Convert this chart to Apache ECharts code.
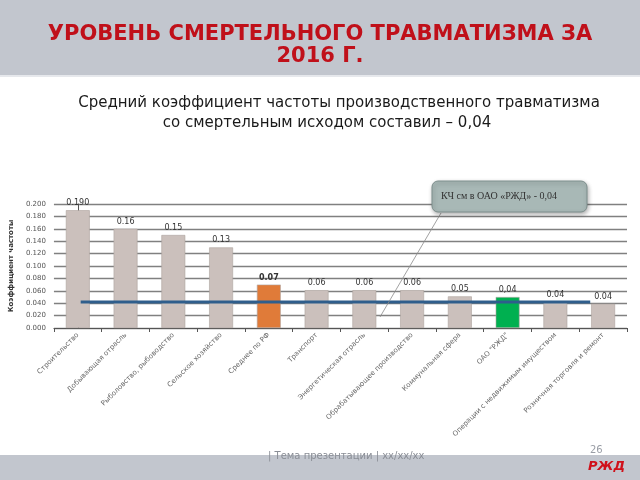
<!DOCTYPE html>
<html><head><meta charset="utf-8">
<script src="https://cdn.jsdelivr.net/npm/echarts@6/dist/echarts.min.js"></script>
<style>html,body{margin:0;padding:0;background:#fff}#c{width:640px;height:480px}</style>
</head><body><div id="c"></div>
<script>
var categories = ['Строительство','Добывающая отрасль','Рыболовство, рыбоводство','Сельское хозяйство','Среднее по РФ','Транспорт','Энергетическая отрасль','Обрабатывающее производство','Коммунальная сфера','ОАО "РЖД"','Операции с недвижимым имуществом','Розничная торговля и ремонт'];
var values = [0.190, 0.160, 0.150, 0.130, 0.070, 0.061, 0.061, 0.061, 0.051, 0.050, 0.042, 0.039];
var valueLabels = ['0.190','0.16','0.15','0.13','0.07','0.06','0.06','0.06','0.05','0,04','0.04','0.04'];
var highlight = {4: '#e07b39', 9: '#00b050'};
var avgLevel = 0.042;
var avgSpan = [0.06, 10.73];
var yTicks = {min: 0, max: 0.2, interval: 0.02};

var chart = echarts.init(document.getElementById('c'), null, {renderer: 'canvas'});
var barData = values.map(function (v, i) {
  return {value: v, label: {formatter: valueLabels[i], fontWeight: i === 4 ? 'bold' : 'normal'},
    itemStyle: {color: highlight[i] || '#cbc0bc', borderColor: highlight[i] ? '#b0a6a2' : '#aca29e', borderWidth: 0.6}};
});
var sub = {fill: '#1a1a1a', fontSize: 15, fontFamily: 'DejaVu Sans', textAlign: 'center', textVerticalAlign: 'middle'};
chart.setOption({
  animation: false,
  backgroundColor: '#fff',
  title: [
    {text: 'УРОВЕНЬ СМЕРТЕЛЬНОГО ТРАВМАТИЗМА ЗА\n2016 Г.', left: 'center', top: 19,
      textStyle: {color: '#c0101a', fontSize: 21, fontWeight: 'bold', fontFamily: 'DejaVu Sans', lineHeight: 22}}
  ],
  graphic: [
    {type: 'rect', z: -10, shape: {x: 0, y: 0, width: 640, height: 75}, style: {fill: '#c2c6ce'}},
    {type: 'rect', z: -10, shape: {x: 0, y: 75, width: 640, height: 2}, style: {fill: '#e6e8ec'}},
    {type: 'rect', z: -10, shape: {x: 0, y: 455, width: 640, height: 25}, style: {fill: '#c2c6ce'}},
    {type: 'text', x: 339, y: 103, style: Object.assign({text: 'Средний коэффициент частоты производственного травматизма'}, sub)},
    {type: 'text', x: 327, y: 123, style: Object.assign({text: 'со смертельным исходом составил – 0,04'}, sub)},
    {type: 'text', left: 268, top: 451, style: {text: '| Тема презентации | xx/xx/xx', fill: '#8a8e96', fontSize: 10, fontFamily: 'DejaVu Sans'}},
    {type: 'text', left: 590, top: 445, style: {text: '26', fill: '#9a9ea6', fontSize: 10, fontFamily: 'DejaVu Sans'}},
    {type: 'text', left: 588, top: 460, style: {text: 'РЖД', fill: '#d0101a', fontSize: 13, fontWeight: 'bold', fontStyle: 'italic', fontFamily: 'DejaVu Sans'}},
    {type: 'line', z: 50, shape: {x1: 441, y1: 213, x2: 380, y2: 317}, style: {stroke: '#8a8a8a', lineWidth: 0.8}},
    {type: 'rect', z: 50, shape: {x: 432, y: 181, width: 155, height: 31, r: 6},
      style: {fill: '#a8b8b6', stroke: '#7d8e8c', lineWidth: 1, shadowBlur: 4, shadowColor: 'rgba(0,0,0,0.3)', shadowOffsetX: 1, shadowOffsetY: 2}},
    {type: 'text', z: 51, left: 441, top: 191, style: {text: 'КЧ см в ОАО «РЖД» - 0,04', fill: '#333', fontSize: 10, fontFamily: 'Liberation Serif'}}
  ],
  grid: {left: 50, right: 13, top: 204, bottom: 152},
  xAxis: [
    {type: 'category', data: categories,
      axisLine: {lineStyle: {color: '#555'}},
      axisTick: {show: true, length: 4, lineStyle: {color: '#555'}},
      axisLabel: {interval: 0, rotate: 45, fontSize: 7, color: '#666', fontFamily: 'DejaVu Sans', margin: 6}},
    {type: 'value', min: -0.5, max: 11.5, show: false}
  ],
  yAxis: {type: 'value', min: yTicks.min, max: yTicks.max, interval: yTicks.interval,
    name: 'Коэффициент частоты', nameLocation: 'middle', nameGap: 38, nameRotate: 90,
    nameTextStyle: {fontSize: 7, color: '#333', fontWeight: 'bold', fontFamily: 'DejaVu Sans'},
    axisLine: {show: true, lineStyle: {color: '#555'}},
    axisTick: {show: true, length: 3, lineStyle: {color: '#555'}},
    axisLabel: {fontSize: 7, color: '#555', fontFamily: 'DejaVu Sans', formatter: function (v) { return v.toFixed(3); }},
    splitLine: {lineStyle: {color: '#808080', width: 1.4}}},
  series: [
    {type: 'bar', data: barData, barWidth: '50%', z: 2,
      label: {show: true, position: 'top', fontSize: 8, color: '#333', fontFamily: 'DejaVu Sans', distance: 3}},
    {type: 'line', xAxisIndex: 1, data: [[avgSpan[0], avgLevel], [avgSpan[1], avgLevel]],
      symbol: 'none', z: 5, lineStyle: {color: '#2f5e8c', width: 3}}
  ]
});
</script></body></html>
